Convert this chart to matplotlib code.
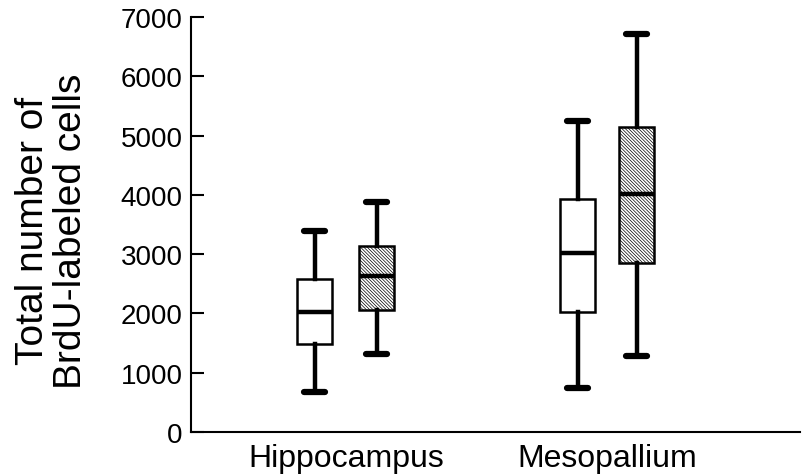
import matplotlib
matplotlib.use("Agg")
import matplotlib.pyplot as plt

plt.rcParams['font.family'] = ['Liberation Sans', 'DejaVu Sans']
plt.rcParams['hatch.linewidth'] = 0.5

# box statistics: low whisker, Q1, median, Q3, high whisker
regions = ["Hippocampus", "Mesopallium"]
open_low = [680, 740]
open_q1 = [1490, 2025]
open_med = [2020, 3020]
open_q3 = [2580, 3930]
open_high = [3390, 5245]

hatched_low = [1315, 1280]
hatched_q1 = [2060, 2850]
hatched_med = [2630, 4010]
hatched_q3 = [3140, 5140]
hatched_high = [3880, 6710]

yticks = [0, 1000, 2000, 3000, 4000, 5000, 6000, 7000]


def make_stats(low, q1, med, q3, high):
    return [dict(whislo=a, q1=b, med=c, q3=d, whishi=e, fliers=[])
            for a, b, c, d, e in zip(low, q1, med, q3, high)]


fig = plt.figure(figsize=(8.03, 4.77), dpi=100)
ax = fig.add_axes([191 / 803, 44 / 477, 609 / 803, 415 / 477])

open_pos = [124, 387]
hatched_pos = [186, 446]

common = dict(widths=35, capwidths=21, patch_artist=True, showfliers=False,
              whiskerprops=dict(color='black', linewidth=3.2),
              capprops=dict(color='black', linewidth=4.5, solid_capstyle='round'),
              medianprops=dict(color='black', linewidth=3.2))

ax.bxp(make_stats(open_low, open_q1, open_med, open_q3, open_high),
       positions=open_pos,
       boxprops=dict(facecolor='white', edgecolor='black', linewidth=1.8),
       **common)
bp = ax.bxp(make_stats(hatched_low, hatched_q1, hatched_med, hatched_q3, hatched_high),
            positions=hatched_pos,
            boxprops=dict(facecolor='white', edgecolor='black', linewidth=1.8),
            **common)
for b in bp['boxes']:
    b.set_hatch('\\\\\\\\\\\\\\\\\\\\')

ax.set_xlim(0, 609)
ax.set_ylim(0, 7000)
ax.set_yticks(yticks)
ax.set_xticks([(a + b) / 2 for a, b in zip(open_pos, hatched_pos)])
ax.set_xticklabels(regions)

ax.spines['top'].set_visible(False)
ax.spines['right'].set_visible(False)
ax.spines['left'].set_linewidth(1.5)
ax.spines['bottom'].set_linewidth(1.5)
ax.tick_params(axis='y', direction='in', length=9, width=1.5, labelsize=20, pad=6)
ax.tick_params(axis='x', length=0, labelsize=23, pad=8)

fig.text(0.065, 0.515, "Total number of\nBrdU-labeled cells", rotation=90,
         ha='center', va='center', fontsize=28, linespacing=1.05)

fig.savefig("out.png", dpi=100)
